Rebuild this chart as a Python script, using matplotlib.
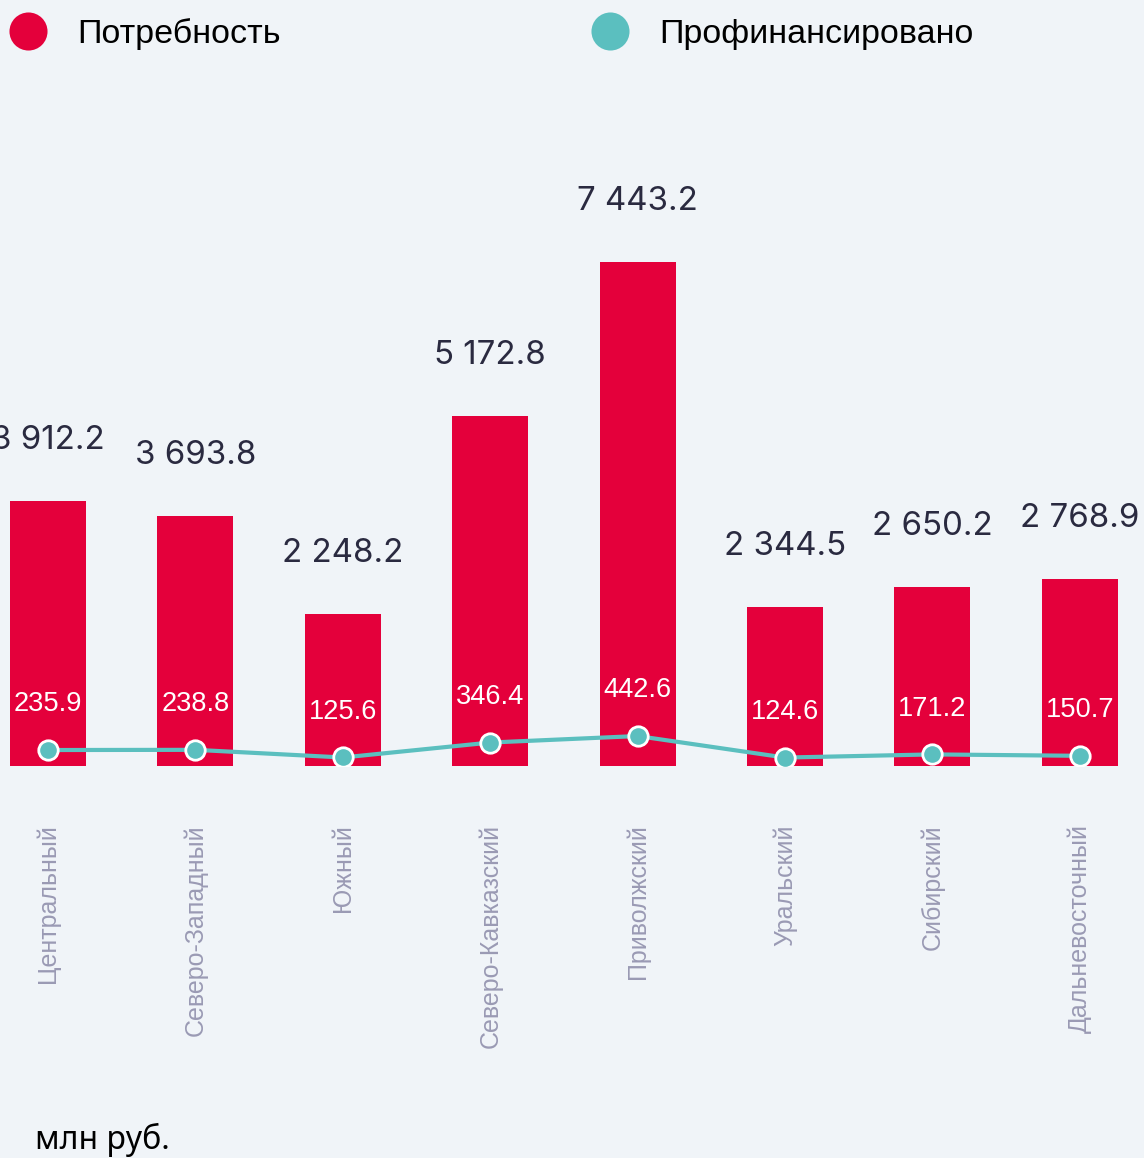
import matplotlib
matplotlib.use("Agg")
import matplotlib.pyplot as plt
from matplotlib.lines import Line2D

regions = ["Центральный", "Северо-Западный", "Южный", "Северо-Кавказский",
           "Приволжский", "Уральский", "Сибирский", "Дальневосточный"]
need = [3912.2, 3693.8, 2248.2, 5172.8, 7443.2, 2344.5, 2650.2, 2768.9]
funded = [235.9, 238.8, 125.6, 346.4, 442.6, 124.6, 171.2, 150.7]

RED = "#E4003B"
TEAL = "#5BBFBF"
BG = "#F0F4F8"
DARK = "#2A2A40"
GRAY = "#9A9AB4"

def fmt(v):
    return f"{v:,.1f}".replace(",", " ")

W, H = 1144, 1158
fig = plt.figure(figsize=(W / 100, H / 100), dpi=100, facecolor=BG)
ax = fig.add_axes([0, 392 / H, 1, 677 / H], facecolor=BG)

x = list(range(len(regions)))
ax.bar(x, need, width=0.516, color=RED, zorder=1)
ax.plot(x, funded, color=TEAL, lw=3, zorder=3, marker="o", markersize=14,
        markerfacecolor=TEAL, markeredgecolor="white", markeredgewidth=2)

for xi, v in zip(x, need):
    ax.annotate(fmt(v), (xi, v), xytext=(0, 43.5), textcoords="offset points",
                ha="center", va="center", fontsize=23.8, color=DARK,
                family="Inter")
for xi, v in zip(x, funded):
    ax.annotate(fmt(v), (xi, v), xytext=(0, 33), textcoords="offset points",
                ha="center", va="center", fontsize=19.6, color="white",
                family="Liberation Sans")

ax.set_xlim(-48 / 147.4, (W - 48) / 147.4)
ax.set_ylim(0, 10000)
ax.set_xticks(x)
ax.set_xticklabels(regions, rotation=90, fontsize=18, color=GRAY,
                   family="Liberation Sans", va="top", ha="center")
ax.tick_params(axis="x", length=0, pad=42)
ax.set_yticks([])
for s in ax.spines.values():
    s.set_visible(False)

# legend
lfs = 24.5
handles = [Line2D([], [], marker="o", ls="", markersize=27.4, markerfacecolor=RED, markeredgewidth=0),
           Line2D([], [], marker="o", ls="", markersize=27.4, markerfacecolor=TEAL, markeredgewidth=0)]
for h, lab, x0 in [(handles[0], "Потребность", 0), (handles[1], "Профинансировано", 582)]:
    fig.legend([h], [lab], loc="center left", bbox_to_anchor=(x0 / W, 1 - 34 / H),
               frameon=False, prop={"family": "Liberation Sans", "size": lfs},
               handletextpad=0.62, borderaxespad=0, borderpad=0, handlelength=1.65,
               labelcolor="black")

fig.text(35 / W, 1 - 1140 / H, "млн руб.", fontsize=23, color="black",
         family="Noto Sans", ha="left", va="center")

fig.savefig("out.png", dpi=100, facecolor=BG)
